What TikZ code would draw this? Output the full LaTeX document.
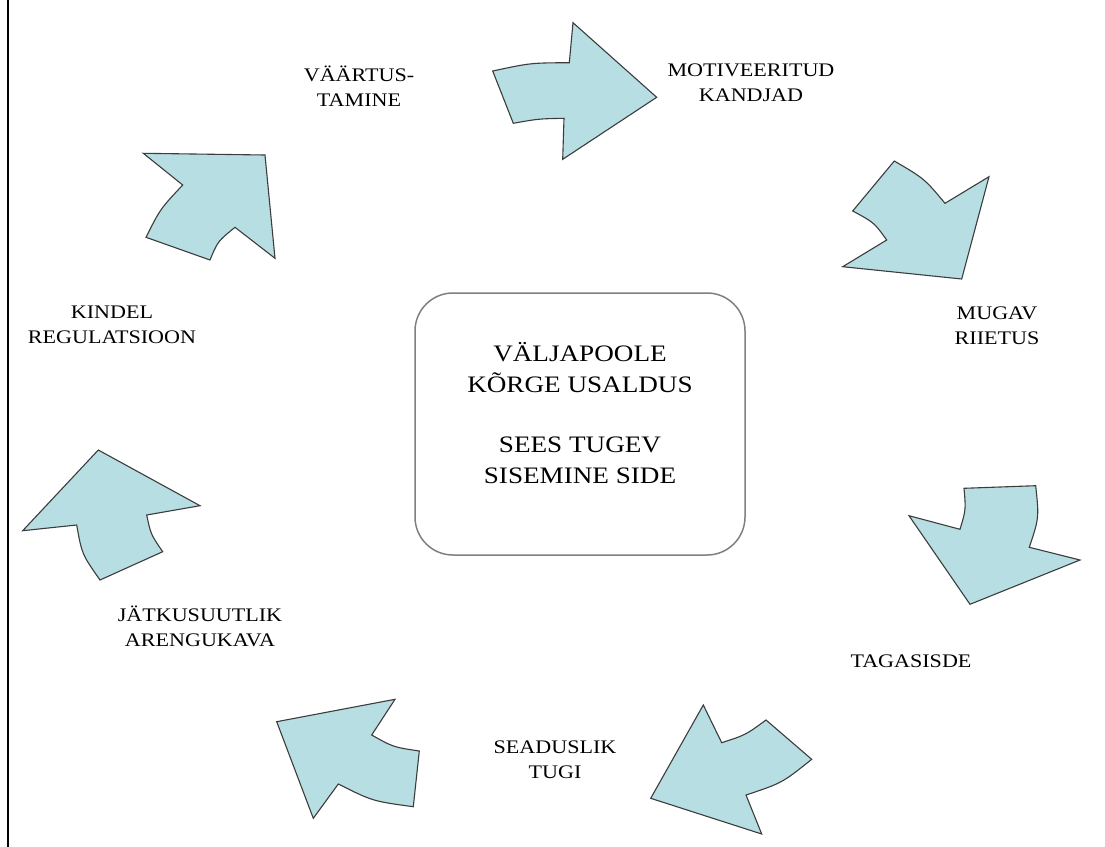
\documentclass[tikz,border=0pt]{standalone}
\usepackage{fontspec}
\setmainfont[FakeStretch=1.15]{Liberation Serif}
\definecolor{pale}{RGB}{183,222,226}
\definecolor{edge}{RGB}{60,60,60}

\begin{document}
\begin{tikzpicture}[x=0.5pt,y=-0.5pt,semithick]
\tikzstyle{blob}=[draw=edge,fill=pale,line width=0.55pt]
\tikzstyle{lbl}=[align=center,inner sep=0pt,font=\fontsize{9.6}{12.5}\selectfont]
\tikzstyle{core}=[draw=gray,rounded corners=19pt,line width=0.75pt,minimum width=165pt,minimum height=131pt]
\useasboundingbox (0,0) rectangle (1105,847);
\draw[line width=1.25pt] (8,0) -- (8,847);
\node[core] (C) at (580,424) {};
\node[align=center,inner sep=0pt,font=\fontsize{11.8}{15.5}\selectfont] (T) at (580,413) {VÄLJAPOOLE\\KÕRGE USALDUS\\[14.5pt]SEES TUGEV\\SISEMINE SIDE};
\draw[blob] (492.7,71) .. controls (530.5,62.9) .. (569.3,62.7) -- (573,22.7) -- (656.7,97.3) -- (562.7,159.3) -- (564,118.3) .. controls (538.4,118.8) .. (513.3,123.3) -- cycle;
\draw[blob] (894.3,161) .. controls (924.5,178.7) .. (945,203.3) -- (989,176.7) -- (961.7,279) -- (842.7,266.7) -- (886.7,240) .. controls (874.1,222.5) .. (852.7,211) -- cycle;
\draw[blob] (960,529.3) .. controls (965.9,509.7) .. (964,488.3) -- (1035.7,485.7) .. controls (1039.1,517.8) .. (1029.3,547.3) -- (1080,560) -- (970,604.3) -- (909,515.7) -- cycle;
\draw[blob] (721.7,742.7) .. controls (745.7,734.9) .. (766,720) -- (811.7,759.3) .. controls (782.1,783) .. (746,795) -- (761.7,834) -- (650.7,798.3) -- (703.3,705) -- cycle;
\draw[blob] (371.7,735) .. controls (393.2,747.1) .. (419.3,751) -- (413.3,806.7) .. controls (372.6,801.2) .. (338.3,784) -- (313.3,818.3) -- (276.7,721.7) -- (395,699.3) -- cycle;
\draw[blob] (146.7,515) .. controls (150.8,534.3) .. (162.7,551.7) -- (100,580) .. controls (81.9,554.2) .. (76.7,525) -- (22.7,530.7) -- (98.3,450) -- (200,505.7) -- cycle;
\draw[blob] (235,227.3) .. controls (217.8,241.3) .. (210,260) -- (146,237.3) .. controls (160.2,209) .. (182.7,185) -- (143.3,153.3) -- (265,155) -- (275,258.3) -- cycle;
\node[lbl] (val) at (359,86) {VÄÄRTUS-\\TAMINE};
\node[lbl] (mot) at (751,83) {MOTIVEERITUD\\KANDJAD};
\node[lbl] (mug) at (997,326) {MUGAV\\RIIETUS};
\node[lbl] (tag) at (911,661) {TAGASISDE};
\node[lbl] (sea) at (555,760) {SEADUSLIK\\TUGI};
\node[lbl] (jat) at (200,626) {JÄTKUSUUTLIK\\ARENGUKAVA};
\node[lbl] (kin) at (112,325) {KINDEL\\REGULATSIOON};
\end{tikzpicture}
\end{document}
